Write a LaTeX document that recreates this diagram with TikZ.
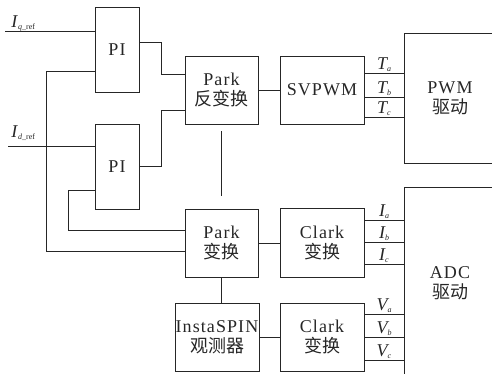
\documentclass[tikz,border=0pt]{standalone}
\usepackage{fontspec}
\setmainfont{Liberation Serif}
\newfontfamily\boxfont[LetterSpace=6]{Liberation Serif}
\newfontfamily\cjk{Noto Sans CJK SC}
\newcommand\lsub[1]{\raisebox{-2pt}{\fontsize{8}{8}\selectfont #1}}

\begin{document}
\begin{tikzpicture}[x=1pt,y=-1pt,line width=0.9pt,color=black!85,
  blk/.style={draw,inner sep=0pt,align=center,font=\boxfont\fontsize{18}{20}\selectfont},
  lbl/.style={midway,anchor=base,yshift=4pt,inner sep=0pt,font=\fontsize{18}{18}\selectfont\itshape}]
  \useasboundingbox (0,0) rectangle (492,373);
  \clip (0,0) rectangle (492,373);
  % blocks
  \node[blk,minimum width=44pt,minimum height=85pt] (piq) at (117,49.5) {PI};
  \node[blk,minimum width=44pt,minimum height=85pt] (pid) at (117,166.5) {PI};
  \node[blk,minimum width=73pt,minimum height=68pt] (ipark) at (221.5,90) {Park\\{\cjk 反变换}};
  \node[blk,minimum width=84pt,minimum height=68pt] (svpwm) at (322,90) {SVPWM};
  \node[blk,minimum width=92pt,minimum height=130pt] (pwm) at (450,98) {PWM\\{\cjk 驱动}};
  \node[blk,minimum width=73pt,minimum height=68pt] (park) at (221.5,243) {Park\\{\cjk 变换}};
  \node[blk,minimum width=84pt,minimum height=69pt] (clarki) at (322,242.5) {Clark\\{\cjk 变换}};
  \node[blk,minimum width=84pt,minimum height=68pt] (insta) at (217,337) {InstaSPIN\\{\cjk 观测器}};
  \node[blk,minimum width=84pt,minimum height=68pt] (clarkv) at (322,337) {Clark\\{\cjk 变换}};
  \node[blk,minimum width=92pt,minimum height=192pt] (adc) at (450,283) {ADC\\{\cjk 驱动}};
  % references
  \coordinate (iq) at (5,31);
  \coordinate (id) at (8,146);
  \node[anchor=base west,inner sep=0pt,font=\fontsize{18}{18}\selectfont] (iqlbl) at (11,27) {\textit{I}\lsub{\textit{q}\_ref}};
  \node[anchor=base west,inner sep=0pt,font=\fontsize{18}{18}\selectfont] (idlbl) at (11,137) {\textit{I}\lsub{\textit{d}\_ref}};
  \draw (iq) -- (iq -| piq.west);
  \draw (id) -- (id -| pid.west);
  % feedback
  \coordinate (fb1) at (46,71);
  \coordinate (fb2) at (68,190);
  \draw (fb1 -| piq.west) -- (fb1) |- ([yshift=-8pt]park.west);
  \draw (fb2 -| pid.west) -- (fb2) |- ([yshift=13pt]park.west);
  % PI outputs
  \coordinate (jq) at (161,42);
  \coordinate (jd) at (161,166);
  \draw (jq -| piq.east) -- (jq) |- ([yshift=16pt]ipark.west);
  \draw (jd -| pid.east) -- (jd) |- ([yshift=-20pt]ipark.west);
  \draw (ipark) -- (svpwm);
  \draw ([yshift=-7pt]ipark.south) -- ([yshift=13pt]park.north);
  \draw (park.east) -- (park.east -| clarki.west);
  \draw (park.south) -- (park.south |- insta.north);
  \draw (insta.east) -- (insta.east -| clarkv.west);
  % phase signals
  \foreach \s/\y in {a/73,b/97,c/117}
    \draw (svpwm.east |- 0,\y) -- node[lbl] (T\s) {T\lsub{\s}} (pwm.west |- 0,\y);
  \foreach \s/\y in {a/220,b/242,c/264}
    \draw (clarki.east |- 0,\y) -- node[lbl] (I\s) {I\lsub{\s}} (adc.west |- 0,\y);
  \foreach \s/\y in {a/314,b/337,c/360}
    \draw (clarkv.east |- 0,\y) -- node[lbl] (V\s) {V\lsub{\s}} (adc.west |- 0,\y);
\end{tikzpicture}
\end{document}
